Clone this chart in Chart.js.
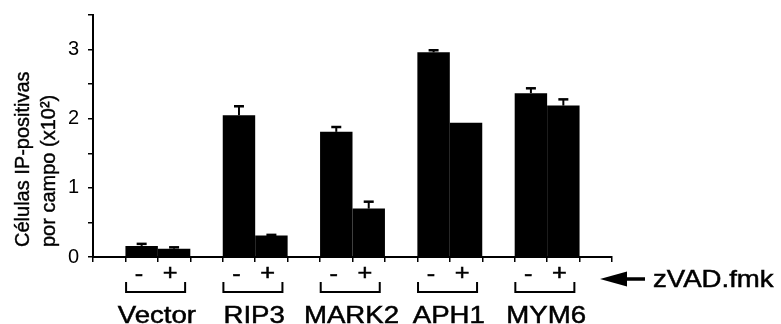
<!DOCTYPE html>
<html>
<head>
<meta charset="utf-8">
<script src="https://cdn.jsdelivr.net/npm/chart.js@4.4.1/dist/chart.umd.min.js"></script>
<style>
  html, body { margin: 0; padding: 0; background: #fff; }
</style>
</head>
<body>
<canvas id="myChart" width="781" height="324"></canvas>
<script>
var groups = ['Vector', 'RIP3', 'MARK2', 'APH1', 'MYM6'];
var treatments = ['-', '+'];
var minusValues = [0.16, 2.05, 1.81, 2.96, 2.37];
var plusValues = [0.12, 0.31, 0.70, 1.94, 2.19];
var minusErr = [0.03, 0.13, 0.07, 0.03, 0.07];
var plusErr = [0.02, 0.01, 0.10, 0, 0.09];
var yTitle = ['Células IP-positivas', 'por campo (x10²)'];
var treatmentLabel = 'zVAD.fmk';

var FONT = '"Liberation Sans", Arial, sans-serif';
var SX = 1.15; // the picture is a bit wider than tall

// each group takes 3 slots on the x scale: gap, -, +
function slot(i) { return 3 * i + 2; }

function stretchText(ctx, text, x, y, align) {
    ctx.save();
    ctx.translate(x, y);
    ctx.scale(SX, 1);
    ctx.textAlign = align || 'center';
    ctx.fillText(text, 0, 0);
    ctx.lineWidth = 0.5;
    ctx.strokeText(text, 0, 0);
    ctx.restore();
}

var errorBars = {
    id: 'errorBars',
    afterDatasetsDraw: function(chart) {
        var ctx = chart.ctx;
        var y = chart.scales.y;
        [[minusValues, minusErr], [plusValues, plusErr]].forEach(function(set, d) {
            var meta = chart.getDatasetMeta(d);
            meta.data.forEach(function(bar, i) {
                if (!set[1][i]) return;
                var top = y.getPixelForValue(set[0][i] + set[1][i]);
                ctx.save();
                ctx.strokeStyle = '#000';
                ctx.lineWidth = 2;
                ctx.beginPath();
                ctx.moveTo(bar.x, bar.y);
                ctx.lineTo(bar.x, top);
                ctx.stroke();
                ctx.lineWidth = 2.5;
                ctx.beginPath();
                ctx.moveTo(bar.x - 5, top);
                ctx.lineTo(bar.x + 5, top);
                ctx.stroke();
                ctx.restore();
            });
        });
    }
};

var annotations = {
    id: 'annotations',
    afterDraw: function(chart) {
        var ctx = chart.ctx;
        var x = chart.scales.x;
        var area = chart.chartArea;
        var base = area.bottom;
        ctx.save();
        ctx.fillStyle = '#000';
        ctx.strokeStyle = '#000';
        ctx.textBaseline = 'middle';

        // y title, two rotated lines
        ctx.font = '20px ' + FONT;
        yTitle.forEach(function(line, k) {
            ctx.save();
            ctx.translate(23 + k * 26, base - 10);
            ctx.rotate(-Math.PI / 2);
            ctx.textAlign = 'left';
            ctx.fillText(line, 0, 0);
            ctx.lineWidth = 0.4;
            ctx.strokeText(line, 0, 0);
            ctx.restore();
        });

        groups.forEach(function(name, i) {
            var s = slot(i);
            ctx.font = '22px ' + FONT;
            stretchText(ctx, treatments[0], x.getPixelForValue(s - 0.58), base + 18);
            stretchText(ctx, treatments[1], x.getPixelForValue(s + 0.38), base + 17);

            var l = x.getPixelForValue(s - 0.98);
            var r = x.getPixelForValue(s + 0.84);
            ctx.lineWidth = 2;
            ctx.beginPath();
            ctx.moveTo(l, base + 25);
            ctx.lineTo(l, base + 35);
            ctx.lineTo(r, base + 35);
            ctx.lineTo(r, base + 25);
            ctx.stroke();

            ctx.font = '24px ' + FONT;
            stretchText(ctx, name, x.getPixelForValue(s) - 1, base + 59);
        });

        // arrow pointing at the - / + row
        var ay = base + 22;
        var tip = area.right - 12;
        ctx.beginPath();
        ctx.moveTo(tip, ay);
        ctx.lineTo(tip + 27, ay - 7.5);
        ctx.lineTo(tip + 27, ay + 7.5);
        ctx.closePath();
        ctx.fill();
        ctx.lineWidth = 3.5;
        ctx.beginPath();
        ctx.moveTo(tip + 20, ay);
        ctx.lineTo(tip + 45, ay);
        ctx.stroke();

        ctx.font = '24px ' + FONT;
        stretchText(ctx, treatmentLabel, tip + 53, ay + 1, 'left');
        ctx.restore();
    }
};

var ctx = document.getElementById('myChart').getContext('2d');
var chart = new Chart(ctx, {
    type: 'bar',
    data: {
        datasets: [{
            label: treatments[0],
            data: minusValues.map(function(v, i) { return {x: slot(i), y: v}; }),
            backgroundColor: '#000',
            categoryPercentage: 2,
            barPercentage: 1
        }, {
            label: treatments[1],
            data: plusValues.map(function(v, i) { return {x: slot(i), y: v}; }),
            backgroundColor: '#000',
            categoryPercentage: 2,
            barPercentage: 1
        }]
    },
    options: {
        responsive: false,
        animation: false,
        layout: { padding: { top: 15, right: 169, left: 0, bottom: 0 } },
        plugins: {
            legend: { display: false },
            tooltip: { enabled: false }
        },
        scales: {
            x: {
                type: 'linear',
                offset: false,
                min: 0,
                max: 16,
                ticks: { display: false, stepSize: 1 },
                grid: { offset: false, drawOnChartArea: false, tickLength: 5, color: '#000', lineWidth: 1.5 },
                border: { color: '#000', width: 2 },
                afterFit: function(scale) { scale.height = 67; }
            },
            y: {
                min: 0,
                max: 3.5,
                ticks: {
                    stepSize: 0.5,
                    color: '#000',
                    padding: 9,
                    font: { family: FONT, size: 20 },
                    callback: function(value) { return value % 1 === 0 ? String(value) : ''; }
                },
                grid: { drawOnChartArea: false, tickLength: 5, color: '#000', lineWidth: 1.5 },
                border: { color: '#000', width: 2 },
                afterFit: function(scale) { scale.width = 93; scale.paddingTop = 0; }
            }
        }
    },
    plugins: [errorBars, annotations]
});
</script>
</body>
</html>
